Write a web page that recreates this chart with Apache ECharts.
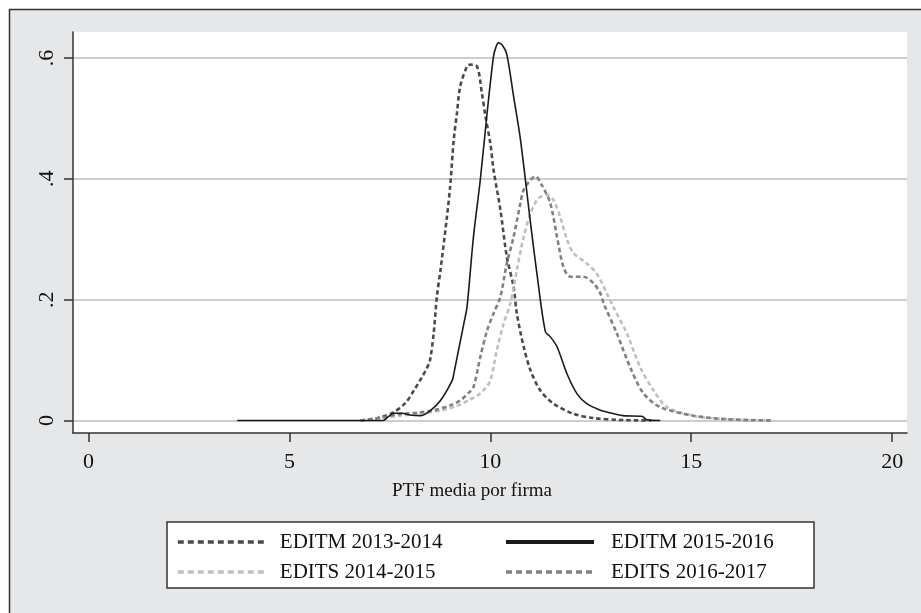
<!DOCTYPE html>
<html>
<head>
<meta charset="utf-8">
<script src="https://cdn.jsdelivr.net/npm/echarts@6/dist/echarts.min.js"></script>
<style>
html,body{margin:0;padding:0;background:#fff;}
#chart{width:921px;height:613px;}
</style>
</head>
<body>
<div id="chart"></div>
<script>
// ---- data ----
const xTicks = [0, 5, 10, 15, 20];
const yTicks = [0, 0.2, 0.4, 0.6];
const yTickLabels = ['0', '.2', '.4', '.6'];
const seriesNames = ['EDITM 2013-2014', 'EDITS 2014-2015', 'EDITM 2015-2016', 'EDITS 2016-2017'];
const xTitle = 'PTF media por firma';

const editm1314X = [6.77, 7.2, 7.6, 7.9, 8.1, 8.3, 8.43, 8.5, 8.59, 8.67, 8.76, 8.92, 9.0, 9.09, 9.17, 9.25, 9.42, 9.5, 9.67, 9.79, 9.88, 10.0, 10.08, 10.25, 10.41, 10.58, 10.66, 10.83, 11.0, 11.24, 11.57, 12.07, 12.57, 13.2, 14.0];
const editm1314Y = [0, 0.004, 0.014, 0.03, 0.05, 0.072, 0.088, 0.1, 0.144, 0.205, 0.249, 0.337, 0.387, 0.465, 0.509, 0.553, 0.586, 0.589, 0.586, 0.542, 0.503, 0.459, 0.415, 0.349, 0.271, 0.221, 0.177, 0.122, 0.083, 0.05, 0.028, 0.011, 0.004, 0.001, 0];

const edits1415X = [6.77, 7.3, 7.76, 8.3, 8.8, 9.2, 9.5, 9.7, 9.83, 10.0, 10.16, 10.33, 10.5, 10.66, 10.83, 11.0, 11.16, 11.3, 11.42, 11.57, 11.74, 11.91, 12.07, 12.4, 12.65, 12.94, 13.06, 13.4, 13.73, 14.06, 14.4, 15.05, 15.9, 17.0];
const edits1415Y = [0, 0.004, 0.008, 0.012, 0.017, 0.025, 0.035, 0.042, 0.05, 0.066, 0.116, 0.16, 0.194, 0.249, 0.304, 0.343, 0.365, 0.372, 0.373, 0.365, 0.337, 0.299, 0.277, 0.26, 0.243, 0.205, 0.188, 0.144, 0.088, 0.05, 0.022, 0.008, 0.002, 0];

const editm1516X = [3.7, 5.0, 7.34, 7.45, 7.6, 7.8, 8.0, 8.26, 8.5, 8.76, 9.05, 9.09, 9.25, 9.34, 9.42, 9.58, 9.75, 9.92, 10.08, 10.14, 10.2, 10.3, 10.41, 10.58, 10.75, 11.0, 11.16, 11.37, 11.5, 11.66, 11.91, 12.16, 12.4, 12.74, 12.9, 13.3, 13.77, 13.9, 14.23];
const editm1516Y = [0, 0, 0, 0.006, 0.012, 0.012, 0.009, 0.008, 0.016, 0.033, 0.066, 0.077, 0.13, 0.16, 0.188, 0.304, 0.398, 0.509, 0.603, 0.618, 0.625, 0.621, 0.606, 0.536, 0.465, 0.327, 0.243, 0.147, 0.138, 0.122, 0.077, 0.044, 0.028, 0.017, 0.014, 0.008, 0.007, 0.001, 0];

const edits1617X = [6.77, 7.3, 7.76, 8.2, 8.59, 9.0, 9.25, 9.45, 9.58, 9.75, 9.92, 10.08, 10.25, 10.41, 10.58, 10.75, 10.83, 11.0, 11.12, 11.28, 11.49, 11.66, 11.82, 11.99, 12.32, 12.57, 12.74, 12.82, 13.15, 13.48, 13.81, 14.23, 15.05, 15.9, 17.04];
const edits1617Y = [0, 0.005, 0.011, 0.013, 0.017, 0.025, 0.033, 0.045, 0.055, 0.105, 0.149, 0.177, 0.205, 0.26, 0.304, 0.36, 0.382, 0.398, 0.404, 0.39, 0.36, 0.304, 0.254, 0.238, 0.238, 0.227, 0.21, 0.194, 0.144, 0.088, 0.045, 0.022, 0.008, 0.002, 0];

function zip(xs, ys) { return xs.map((x, i) => [x, ys[i]]); }

const serif = 'Liberation Serif';
const chart = echarts.init(document.getElementById('chart'), null, {renderer: 'canvas'});

const dashed = [4.5, 3];
const styles = [
  {color: '#4a4a4a', width: 2.6, type: dashed},
  {color: '#bfbfc3', width: 2.6, type: dashed},
  {color: '#1a1a1a', width: 1.6, type: 'solid'},
  {color: '#808084', width: 2.6, type: dashed}
];
const datasets = [zip(editm1314X, editm1314Y), zip(edits1415X, edits1415Y), zip(editm1516X, editm1516Y), zip(edits1617X, edits1617Y)];

const legendText = {fontFamily: serif, fontSize: 21, color: '#111', lineHeight: 30, padding: [0, 0, 0, 11]};
function legendItem(i) {
  return {name: seriesNames[i],
    itemStyle: {opacity: 0, color: 'rgba(0,0,0,0)', borderWidth: 0},
    lineStyle: {width: i === 2 ? 4 : 3.6, type: i === 2 ? 'solid' : [6, 4], color: styles[i].color, opacity: 1}};
}

chart.setOption({
  backgroundColor: '#fff',
  animation: false,
  graphic: [
    {type: 'rect', z: -10, shape: {x: 9.5, y: 9.5, width: 930, height: 620}, style: {fill: '#e6e7e9', stroke: '#333', lineWidth: 1.5}},
    {type: 'rect', z: -9, shape: {x: 73, y: 32, width: 834, height: 401}, style: {fill: '#fff'}},
    {type: 'rect', z: -9, shape: {x: 167, y: 522, width: 647, height: 66}, style: {fill: '#fff', stroke: '#333', lineWidth: 1.5}}
  ],
  grid: {left: 73, right: 14, top: 32, bottom: 180, containLabel: false},
  xAxis: {
    type: 'value', min: -0.386, max: 20.37,
    name: xTitle, nameLocation: 'middle', nameGap: 49,
    nameTextStyle: {fontFamily: serif, fontSize: 19, color: '#111', padding: [0, 36, 0, 0]},
    axisLine: {show: true, onZero: false, lineStyle: {color: '#333', width: 1.5}},
    axisTick: {show: true, length: 9, customValues: xTicks, lineStyle: {color: '#333', width: 1.5}},
    axisLabel: {customValues: xTicks, fontFamily: serif, fontSize: 22, color: '#111', margin: 18},
    splitLine: {show: false}
  },
  yAxis: {
    type: 'value', min: -0.0207, max: 0.643,
    axisLine: {show: true, onZero: false, lineStyle: {color: '#333', width: 1.5}},
    axisTick: {show: true, length: 9, customValues: yTicks, lineStyle: {color: '#333', width: 1.5}},
    axisLabel: {customValues: yTicks, rotate: 90, fontFamily: serif, fontSize: 22, color: '#111', margin: 15,
      formatter: v => { const i = yTicks.findIndex(t => Math.abs(t - v) < 1e-9); return i >= 0 ? yTickLabels[i] : ''; }},
    splitLine: {show: true, lineStyle: {color: '#bdbdbf', width: 1.5}}
  },
  legend: [
    {left: 176, top: 527, orient: 'vertical', itemWidth: 86, itemHeight: 14, itemGap: 0, padding: 0,
     data: [legendItem(0), legendItem(1)], textStyle: legendText, selectedMode: false},
    {left: 504, top: 527, orient: 'vertical', itemWidth: 88, itemHeight: 14, itemGap: 0, padding: 0,
     data: [legendItem(2), legendItem(3)], textStyle: Object.assign({}, legendText, {padding: [0, 0, 0, 12]}), selectedMode: false}
  ],
  series: datasets.map((d, i) => ({
    name: seriesNames[i], type: 'line', data: d, symbol: 'none', showSymbol: false,
    smooth: 0.3,
    lineStyle: {color: styles[i].color, width: styles[i].width, type: styles[i].type},
    itemStyle: {color: styles[i].color},
    z: i === 2 ? 4 : 3
  }))
});
</script>
</body>
</html>
